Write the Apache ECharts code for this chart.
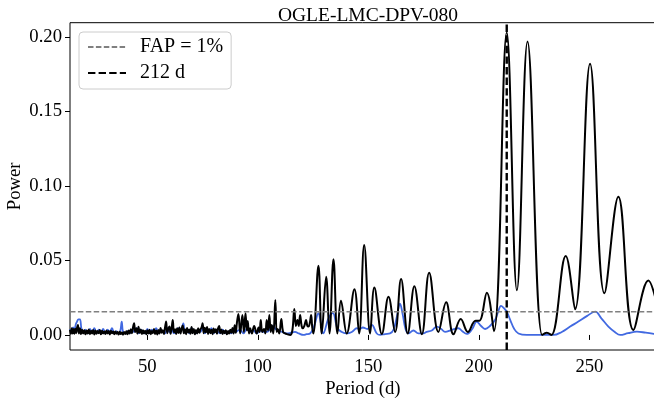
<!DOCTYPE html>
<html>
<head>
<meta charset="utf-8">
<script src="https://cdn.jsdelivr.net/npm/echarts@6/dist/echarts.min.js"></script>
<style>
  html, body { margin: 0; padding: 0; background: #fff; }
  #chart { width: 654px; height: 405px; }
</style>
</head>
<body>
<div id="chart"></div>
<script>
// periodogram of the target: [period (d), power]
const blackLow = [
  [15.0,0.0035],[15.4,0.0008],[15.8,0.0045],[16.2,0.001],[16.6,0.004],[17.0,0.0008],[17.4,0.0042],[17.8,0.0012],
  [18.2,0.0048],[18.6,0.0067],[19.0,0.001],[19.5,0.0045],[20.0,0.0006],[20.5,0.0035],[21.0,0.001],[21.5,0.0032],
  [22.0,0.0004],[22.5,0.003],[23.0,0.0009],[23.5,0.0036],[24.0,0.0005],[24.5,0.0028],[25.0,0.001],[25.5,0.0034],
  [26.0,0.0003],[26.5,0.003],[27.0,0.0008],[27.5,0.0026],[28.0,0.0012],[28.5,0.0033],[29.0,0.0004],[29.5,0.0028],
  [30.0,0.0009],[30.5,0.0024],[31.0,0.0006],[31.5,0.003],[32.0,0.001],[32.5,0.0026],[33.0,0.0003],[33.5,0.0029],
  [34.0,0.0011],[34.5,0.0024],[35.0,0.0005],[35.5,0.0023],[36.0,0.0008],[36.5,0.0019],[37.0,0.0003],[37.5,0.0021],
  [38.0,0.0006],[38.5,0.0017],[39.0,0.0002],[39.5,0.002],[40.0,0.0007],[40.5,0.0025],[41.0,0.0004],[41.5,0.003],
  [42.0,0.001],[42.5,0.0038],[43.0,0.0012],[43.5,0.005],[44.0,0.0078],[44.5,0.002],[45.0,0.0045],[45.5,0.0009],
  [46.0,0.0055],[46.5,0.0014],[47.0,0.0037],[47.5,0.0006],[48.0,0.0032],[48.5,0.001],[49.0,0.0028],[49.5,0.0004],
  [50.0,0.0031],[50.5,0.0009],[51.0,0.0035],[51.5,0.0005],[52.0,0.0027],[52.5,0.0012],[53.0,0.004],[53.5,0.0007],
  [54.0,0.003],[54.5,0.0003],[55.0,0.0034],[55.5,0.001],[56.0,0.0046],[56.5,0.0015],[57.0,0.0032],[57.5,0.0006],
  [58.0,0.005],[58.5,0.009],[59.0,0.0012],[59.5,0.0042],[60.0,0.0056],[60.5,0.0008],[61.0,0.0048],[61.5,0.01],
  [62.0,0.0018],[62.5,0.0038],[63.0,0.0007],[63.5,0.0045],[64.0,0.0013],[64.5,0.005],[65.0,0.0009],[65.5,0.0042],
  [66.0,0.0064],[66.5,0.0011],[67.0,0.0039],[67.5,0.0005],[68.0,0.0047],[68.5,0.0016],[69.0,0.0036],[69.5,0.0008],
  [70.0,0.0054],[70.5,0.0012],[71.0,0.004],[71.5,0.0004],[72.0,0.0033],[72.5,0.001],[73.0,0.0045],[73.5,0.0014],
  [74.0,0.0037],[74.5,0.005],[75.0,0.0078],[75.5,0.0011],[76.0,0.0048],[76.5,0.0018],[77.0,0.0054],[77.5,0.0007],
  [78.0,0.004],[78.5,0.0012],[79.0,0.0035],[79.5,0.0005],[80.0,0.0043],[80.5,0.0016],[81.0,0.0038],[81.5,0.0008],
  [82.0,0.0044],[82.5,0.006],[83.0,0.0013],[83.5,0.0036],[84.0,0.0006],[84.5,0.0029],[85.0,0.0011],[85.5,0.0032],
  [86.0,0.0004],[86.5,0.0026],[87.0,0.0009],[87.5,0.0035],[88.0,0.0015],[88.5,0.0046],[89.0,0.001],[89.5,0.0065],
  [90.0,0.0015]
];

const blackHigh = [
  [90.5,0.008],[91.2,0.014],[92.0,0.001],[93.0,0.0134],[93.7,0.002],[94.4,0.0146],[95.0,0.003],[95.4,0.0094],
  [96.0,0.001],[96.5,0.0045],[97.3,0.001],[98.3,0.006],[99.5,0.001],[100.3,0.005],[100.8,0.002],[101.3,0.010],
  [102.0,0.002],[102.8,0.004],[103.4,0.001],[104.0,0.010],[104.6,0.003],[105.2,0.0134],[105.8,0.002],[106.3,0.0067],
  [107.0,0.001],[107.9,0.0235],[108.5,0.002],[109.0,0.004],[109.7,0.001],[110.6,0.0107],[111.4,0.002],[112.3,0.001],
  [113.5,0.0004],[114.6,0.0],[115.6,0.003],[116.5,0.0174],[117.2,0.006],[117.9,0.010],[118.5,0.006],[119.1,0.0134],
  [119.8,0.006],[120.3,0.0045],[121.0,0.006],[121.8,0.010],[122.4,0.006],[122.9,0.0056],[123.5,0.008],[124.1,0.0134],
  [124.6,0.005],[125.1,0.001],[127.4,0.0465],[128.9,0.001],[130.9,0.039],[132.4,0.001],[134.2,0.0508],[136.0,0.001],
  [137.6,0.023],[140.2,0.001],[143.7,0.0307],[145.8,0.001],[148.1,0.0604],[150.8,0.001],[152.7,0.0318],[156.1,0.0007],
  [159.1,0.0257],[162.1,0.002],[164.8,0.0376],[167.8,0.001],[170.8,0.0327],[174.2,0.0005],[177.5,0.0418],[181.7,0.002],
  [185.2,0.0219],[188.5,0.0005],[191.8,0.0107],[195.0,0.002],[198.5,0.0096],[200.2,0.0096],[203.6,0.0284],[206.8,0.0025],
  [212.6,0.203],[217.2,0.030],[222.0,0.197],[228.6,0.0],[230.7,0.0015],[232.8,0.0],[239.3,0.053],[243.5,0.0172],
  [250.3,0.182],[256.8,0.028],[263.1,0.0928],[269.9,0.0034],[276.7,0.0365],[280.0,0.024]
];

const blueLow = [
  [15,0.004],[15.7,0.002],[16.4,0.005],[17,0.003],[17.6,0.007],[18.2,0.009],[18.8,0.0105],[19.5,0.0105],[20.2,0.004],
  [21,0.002],[22,0.0035],[23,0.001],[24,0.004],[25,0.002],[26,0.0045],[27,0.001],[28,0.0035],[29,0.002],[30,0.004],
  [31,0.001],[32,0.0035],[33,0.002],[34,0.0045],[35,0.001],[36,0.0025],[37,0.001],[37.8,0.003],[38.4,0.009],[39,0.002],
  [40,0.001],[41,0.0025],[42,0.001],[43,0.0035],[44,0.002],[45.2,0.0045],[46,0.001],[47,0.0035],[48,0.002],[49,0.001],
  [50,0.004],[51,0.001],[52,0.0035],[53,0.002],[54,0.0045],[55,0.001],[56,0.0035],[57,0.002],[58,0.001],[59,0.0045],
  [60,0.002],[61,0.0035],[62,0.001],[63,0.0025],[64,0.0045],[65,0.002],[66.3,0.0078],[67,0.002],[68,0.0035],[69,0.001],
  [70,0.0045],[71,0.002],[72,0.001],[73,0.0035],[74,0.002],[75,0.0045],[76,0.001],[77,0.0035],[78,0.002],[79,0.0045],
  [80,0.001],[81,0.0035],[82,0.002],[83,0.001],[84,0.0035],[85,0.002],[86,0.001],[87,0.0025],[88,0.001],[89,0.0035],
  [90,0.002],[91,0.003]
];

const blueHigh = [
  [92,0.0034],[93.5,0.001],[95,0.004],[96.5,0.002],[98,0.003],[99.5,0.001],[101,0.003],[102.5,0.002],[104,0.002],
  [105.5,0.004],[107,0.006],[108,0.004],[109.3,0.003],[111,0.002],[113.1,0.001],[115,0.0015],[116.8,0.002],[118.5,0.001],
  [120.6,0.0],[122,0.0005],[123.6,0.001],[125.4,0.0056],[127.4,0.0146],[128.5,0.008],[129.6,0.001],[131.9,0.011],
  [133.9,0.0146],[136.0,0.0045],[138,0.002],[140.2,0.001],[142.5,0.002],[144.8,0.0045],[146,0.004],[147.5,0.005],
  [149.5,0.004],[151.5,0.0067],[153.8,0.001],[155.3,0.0],[157.5,0.0006],[159.8,0.001],[161.5,0.004],[163,0.013],
  [164.3,0.021],[165.5,0.014],[166.8,0.004],[168.1,0.001],[170.4,0.003],[172.6,0.001],[174.5,0.001],[176.4,0.002],
  [178.7,0.003],[181.0,0.0056],[183,0.004],[184.7,0.002],[187.7,0.0034],[190.7,0.0045],[192.5,0.0025],[194.5,0.0007],
  [197,0.004],[199.0,0.009],[201,0.006],[202.8,0.004],[205.0,0.006],[207.3,0.01],[208.8,0.016],[210.0,0.0195],
  [211.3,0.018],[212.6,0.0156],[214.2,0.01],[216.0,0.004],[217.9,0.001],[221.7,0.0],[226,0.0],[230,0.0],[233.7,0.0],
  [237.5,0.002],[241.3,0.0056],[245,0.009],[249,0.0128],[252.6,0.0156],[255.5,0.011],[258.6,0.0056],[261.5,0.002],
  [263.9,0.0],[267.5,0.0012],[271.5,0.0022],[275.5,0.0015],[279.3,0.0007],[280,0.0005]
];

const fapLevel = 0.0156;
const bestPeriod = 212.6;
const xRange = [15, 280];
const yRange = [-0.0101, 0.2096];
const xTicks = [50, 100, 150, 200, 250];
const yTicks = [0, 0.05, 0.1, 0.15, 0.2];

const font = "Liberation Serif";
const txt = { fontFamily: font, fontSize: 18.7, color: "#000" };

const chart = echarts.init(document.getElementById("chart"));

chart.setOption({
  animation: false,
  backgroundColor: "#fff",
  title: {
    text: "OGLE-LMC-DPV-080",
    left: 363,
    top: 1,
    textAlign: "center",
    textStyle: { fontFamily: font, fontSize: 19.5, fontWeight: "normal", color: "#000" }
  },
  grid: {
    left: 70, top: 22.7, width: 585.7, height: 327.3,
    outerBoundsMode: "none",
    containLabel: false,
    show: true, borderColor: "#000", borderWidth: 1
  },
  legend: {
    data: ["FAP = 1%", "212 d"],
    orient: "vertical",
    left: 79, top: 32,
    padding: [5, 8, 6, 8],
    itemWidth: 38, itemHeight: 14, itemGap: 6,
    backgroundColor: "rgba(255,255,255,0.8)",
    borderColor: "#cccccc", borderWidth: 1, borderRadius: 4,
    selectedMode: false,
    itemStyle: { color: "transparent", borderWidth: 0 },
    textStyle: { fontFamily: font, fontSize: 20, color: "#000", lineHeight: 20, padding: [0, 0, 0, 9] }
  },
  xAxis: {
    type: "value",
    min: xRange[0], max: xRange[1],
    name: "Period (d)",
    nameLocation: "middle",
    nameGap: 30,
    nameMoveOverlap: false,
    nameTextStyle: txt,
    axisLine: { show: false },
    axisTick: { show: true, length: 5, customValues: xTicks, lineStyle: { color: "#000" } },
    axisLabel: Object.assign({ customValues: xTicks, margin: 8 }, txt),
    splitLine: { show: false }
  },
  yAxis: {
    type: "value",
    min: yRange[0], max: yRange[1],
    name: "Power",
    nameLocation: "middle",
    nameGap: 45,
    nameMoveOverlap: false,
    nameTextStyle: txt,
    axisLine: { show: false },
    axisTick: { show: true, length: 5, customValues: yTicks, lineStyle: { color: "#000" } },
    axisLabel: Object.assign({ customValues: yTicks, margin: 8, formatter: v => v.toFixed(2) }, txt),
    splitLine: { show: false }
  },
  series: [
    {
      name: "window",
      type: "line",
      data: blueLow.concat(blueHigh),
      symbol: "none",
      smooth: 0.4,
      z: 2,
      lineStyle: { color: "#4169e1", width: 1.8 }
    },
    {
      name: "power",
      type: "line",
      data: blackLow.concat(blackHigh),
      symbol: "none",
      smooth: 0.4,
      z: 3,
      lineStyle: { color: "#000", width: 2 }
    },
    {
      name: "FAP = 1%",
      type: "line",
      data: [[xRange[0], fapLevel], [xRange[1], fapLevel]],
      symbol: "none",
      z: 4,
      itemStyle: { color: "#808080" },
      lineStyle: { color: "#808080", width: 1.5, type: [5.5, 2.4] }
    },
    {
      name: "212 d",
      type: "line",
      data: [[bestPeriod, yRange[0]], [bestPeriod, yRange[1]]],
      symbol: "none",
      z: 5,
      itemStyle: { color: "#000" },
      lineStyle: { color: "#000", width: 2.4, type: [7.4, 3.2] }
    }
  ]
});
</script>
</body>
</html>
